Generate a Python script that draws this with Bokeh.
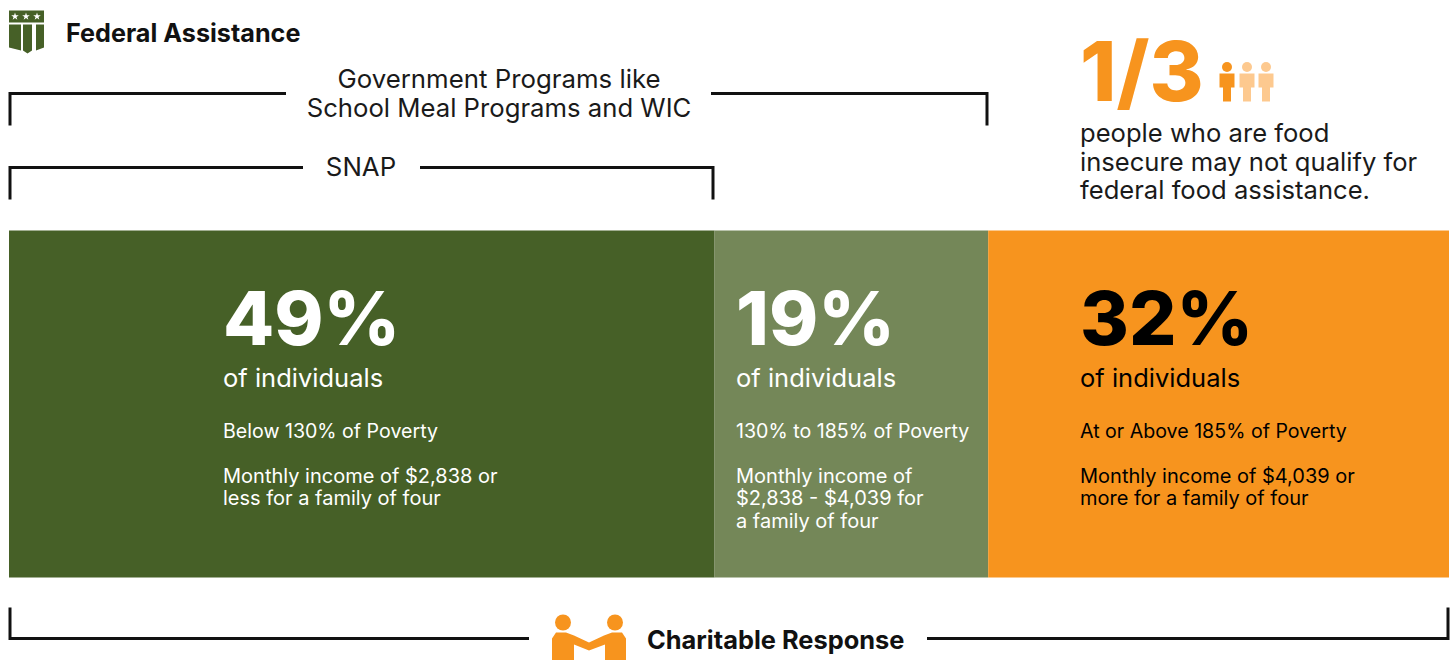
from bokeh.plotting import figure
from bokeh.embed import file_html
from bokeh.resources import INLINE
from bokeh.core.properties import value

FONT = "Inter"
HEAVY = "Inter ExtraBold"
shares = [49, 19, 32]
share_labels = ["49%", "19%", "32%"]
band_colors = ["#466027", "#748758", "#F7941E"]
label_colors = ["#FFFFFF", "#FFFFFF", "#000000"]
unit_label = "of individuals"
poverty_labels = ["Below 130% of Poverty", "130% to 185% of Poverty", "At or Above 185% of Poverty"]
income_lines = [
    ["Monthly income of $2,838 or", "less for a family of four"],
    ["Monthly income of", "$2,838 - $4,039 for", "a family of four"],
    ["Monthly income of $4,039 or", "more for a family of four"],
]
text_x = [223, 736, 1080]

W, H = 1452, 660
p = figure(width=W, height=H, x_range=(0.5, W + 0.5), y_range=(H, 0),
           output_backend="svg", toolbar_location=None, min_border=0,
           outline_line_color=None, background_fill_color="white")
p.axis.visible = False
p.grid.visible = False

def txt(x, y, s, size, color="#1a1a1a", bold=False, align="left", font=FONT):
    # Bokeh's text layout pushes the baseline down by about 0.38 em
    p.text([x], [y + 1 - 0.38 * size], text=[s], text_font=value(font), text_font_size=f"{size}px",
           text_color=color, text_align=align, text_baseline="alphabetic",
           text_font_style="bold" if bold else "normal")

X0, X1 = 9, 1449
left = X0
for sh, col, lc, lab, pov, inc, tx in zip(shares, band_colors, label_colors, share_labels,
                                          poverty_labels, income_lines, text_x):
    right = left + (X1 - X0) * sh / sum(shares)
    p.quad(left=[left], right=[right], top=[230], bottom=[577], fill_color=col, line_color=None)
    left = right
    txt(tx, 345, lab, 74.5, lc, True, font=HEAVY)
    txt(tx, 386, unit_label, 25.5, lc)
    txt(tx, 437, pov, 19.6, lc)
    for i, line in enumerate(inc):
        txt(tx, 482 + i * 22.5, line, 20, lc)

LW = 3
for xs, ys in [
    ([10, 10, 286], [125, 93, 93]), ([711, 987, 987], [93, 93, 125]),
    ([10, 10, 303], [199, 167, 167]), ([420, 713, 713], [167, 167, 199]),
    ([10, 10, 529], [607, 638, 638]), ([927, 1448, 1448], [638, 638, 607]),
]:
    p.line(xs, ys, line_color="#111111", line_width=LW, line_join="miter")

txt(499, 87, "Government Programs like", 25.8, align="center")
txt(499, 116, "School Meal Programs and WIC", 25.7, align="center")
txt(361, 175, "SNAP", 25.8, align="center")
txt(66, 41, "Federal Assistance", 25.2, "#111111", True)
txt(647, 648, "Charitable Response", 25.4, "#111111", True)

txt(1080, 101, "1/3", 82.5, "#F7941E", True, font=HEAVY)
for i, s in enumerate(["people who are food", "insecure may not qualify for", "federal food assistance."]):
    txt(1080, 141 + i * 28.5, s, 25.6)

G = "#466027"
p.patch([9, 44, 44, 9], [10, 10, 22, 22], fill_color=G, line_color=None)
p.patch([9, 21, 21, 9], [24, 24, 50, 47], fill_color=G, line_color=None)
p.patch([23, 32, 32, 27.5, 23], [24, 24, 50, 53, 50], fill_color=G, line_color=None)
p.patch([36, 44, 44, 36], [24, 24, 47, 50], fill_color=G, line_color=None)
p.scatter([15, 26, 37], [16, 16, 16], marker="star", size=8, fill_color="white", line_color=None)

for cx, c in zip([1227, 1247, 1266], ["#F7941E", "#FDC98F", "#FDC98F"]):
    p.circle([cx], [66.5], radius=5, fill_color=c, line_color=None)
    p.patch([cx-7.5, cx+7.5, cx+7.5, cx+4, cx+4, cx-4, cx-4, cx-7.5],
            [73, 73, 87, 87, 101, 101, 87, 87], fill_color=c, line_color=None)

O = "#F7941E"
p.circle([563, 615], [622, 622], radius=8, fill_color=O, line_color=None)
p.patch([552, 552, 556, 566, 574, 589, 604, 612, 622, 626, 626, 605, 605, 589, 574, 574],
        [660, 638, 632, 632, 635, 642, 635, 632, 632, 638, 660, 660, 644, 650, 644, 660],
        fill_color=O, line_color=None)

open("out.html", "w").write(file_html(p, INLINE))
